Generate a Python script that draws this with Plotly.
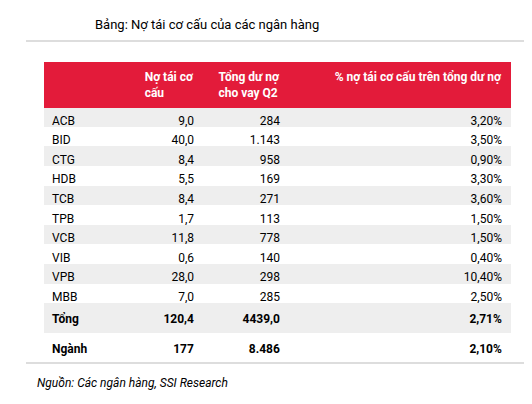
import plotly.graph_objects as go

banks = ["ACB","BID","CTG","HDB","TCB","TPB","VCB","VIB","VPB","MBB","Tổng","Ngành"]
restructured = ["9,0","40,0","8,4","5,5","8,4","1,7","11,8","0,6","28,0","7,0","120,4","177"]
loans = ["284","1.143","958","169","271","113","778","140","298","285","4439,0","8.486"]
pct = ["3,20%","3,50%","0,90%","3,30%","3,60%","1,50%","1,50%","0,40%","10,40%","2,50%","2,71%","2,10%"]
headers = ["", "Nợ tái cơ cấu", "Tổng dư nợ<br>cho vay Q2", "% nợ tái cơ cấu trên tổng dư nợ"]

W, H = 532, 404
OFF = 8
FONT = "Roboto, Liberation Sans"

def b(col):
    return [f"<b>{v}</b>" if i >= 10 else v for i, v in enumerate(col)]

fills = ["#EEEEEE" if i % 2 == 0 else "white" for i in range(len(banks))]

fig = go.Figure(go.Table(
    domain=dict(x=[36/W, 502/W], y=[0, 1-(62-OFF)/H]),
    columnwidth=[70, 88, 86, 222],
    header=dict(values=[f"<b>{h}</b>" for h in headers],
                fill_color="#E31B3A", line_color="#E31B3A",
                font=dict(color="white", size=12, family=FONT),
                align="right", height=44),
    cells=dict(values=[b(banks), b(restructured), b(loans), b(pct)],
               fill_color=[fills]*4, line_color=[fills]*4,
               font=dict(color="black", size=12, family=FONT),
               align=["left","right","right","right"], height=19.6),
))
fig.add_shape(type="line", xref="paper", yref="paper", x0=18/W, x1=1, y0=1-(41-OFF)/H, y1=1-(41-OFF)/H,
              line=dict(color="#BBBBBB", width=1))
fig.add_shape(type="line", xref="paper", yref="paper", x0=18/W, x1=1, y0=1-(363-OFF)/H, y1=1-(363-OFF)/H,
              line=dict(color="#BBBBBB", width=1))
fig.add_annotation(text="Bảng: Nợ tái cơ cấu của các ngân hàng", xref="paper", yref="paper",
                   x=85/W, y=1-(24-OFF)/H, xanchor="left", yanchor="middle", showarrow=False,
                   font=dict(size=13, family=FONT, color="black"))
fig.add_annotation(text="B", xref="paper", yref="paper",
                   x=524/W, y=1-(24-OFF)/H, xanchor="left", yanchor="middle", showarrow=False,
                   font=dict(size=13, family=FONT, color="black"))
fig.add_annotation(text="<i>Nguồn: Các ngân hàng, SSI Research</i>", xref="paper", yref="paper",
                   x=27/W, y=1-(383-OFF)/H, xanchor="left", yanchor="middle", showarrow=False,
                   font=dict(size=12, family=FONT, color="black"))
fig.update_layout(width=W, height=H, margin=dict(l=0, r=0, t=0, b=0),
                  paper_bgcolor="white", plot_bgcolor="white")
fig.write_html("out.html")
